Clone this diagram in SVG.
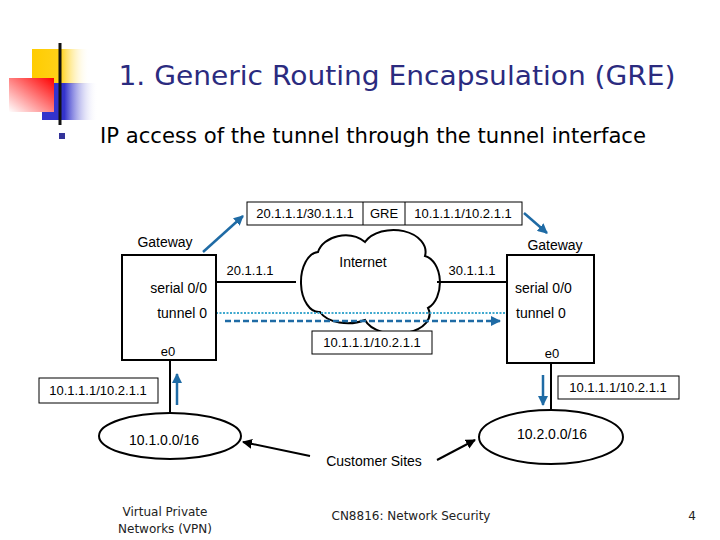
<svg xmlns="http://www.w3.org/2000/svg" width="720" height="540" viewBox="0 0 720 540">
<defs>
<linearGradient id="gy" x1="0" y1="0" x2="1" y2="0"><stop offset="0" stop-color="#FFCC00"/><stop offset="0.5" stop-color="#FFD21A"/><stop offset="1" stop-color="#FFFFFF" stop-opacity="0"/></linearGradient>
<linearGradient id="gb" x1="0" y1="0" x2="1" y2="0"><stop offset="0" stop-color="#3333CC"/><stop offset="0.4" stop-color="#3333CC"/><stop offset="1" stop-color="#FFFFFF" stop-opacity="0"/></linearGradient>
<linearGradient id="gr" x1="1" y1="0" x2="0" y2="1"><stop offset="0" stop-color="#FF0000"/><stop offset="1" stop-color="#FFFFFF"/></linearGradient>
<linearGradient id="gl" x1="0" y1="0" x2="1" y2="0"><stop offset="0" stop-color="#111111"/><stop offset="0.6" stop-color="#AAAAAA"/><stop offset="1" stop-color="#FFFFFF"/></linearGradient>
<marker id="ab" viewBox="0 0 10 10" refX="9" refY="5" markerWidth="4" markerHeight="4" orient="auto-start-reverse"><path d="M0,0 L10,5 L0,10 Z" fill="#1F6BA5"/></marker>
<marker id="ak" viewBox="0 0 10 10" refX="9" refY="5" markerWidth="5" markerHeight="5" orient="auto"><path d="M0,0 L10,5 L0,10 Z" fill="#000"/></marker>
<style>
text{font-family:"Liberation Sans",Arial,sans-serif;fill:#000}
.t13{font-size:13px}
.t14{font-size:14px}
.box{fill:#fff;stroke:#000;stroke-width:1}
.gw{fill:#fff;stroke:#000;stroke-width:2}
.ln{stroke:#000;stroke-width:2;fill:none}
.blue{stroke:#1F6BA5;stroke-width:2.5;fill:none}
.foot{font-family:"DejaVu Sans",Verdana,sans-serif;font-size:12px;fill:#222}
</style>
</defs>
<rect width="720" height="540" fill="#fff"/>
<g id="logo">
<rect x="32" y="49" width="58" height="35" fill="url(#gy)"/>
<rect x="42" y="83" width="56" height="37" fill="url(#gb)"/>
<rect x="9" y="78" width="45" height="34" fill="url(#gr)"/>
<line x1="34" y1="105" x2="700" y2="105" stroke="url(#gl)" stroke-width="3"/>
<line x1="60" y1="43" x2="60" y2="125" stroke="#111" stroke-width="3"/>
</g>
<text x="397" y="85" text-anchor="middle" style="font-family:'DejaVu Sans',Verdana,sans-serif;font-size:27px;fill:#2B2B7F" textLength="557" lengthAdjust="spacingAndGlyphs">1. Generic Routing Encapsulation (GRE)</text>
<rect x="59" y="133" width="6" height="6" fill="#333399"/>
<text x="100" y="143" style="font-family:'DejaVu Sans',Verdana,sans-serif;font-size:21px" textLength="546" lengthAdjust="spacingAndGlyphs">IP access of the tunnel through the tunnel interface</text>

<g id="internet">
<path d="M318,252 A28,22 0 0 1 365,242 A32,22 0 0 1 425,256 A18,27 0 0 1 428,308 A30,18 0 0 1 365,320 A30,18 0 0 1 320,312 A18,30 0 0 1 318,252 Z" fill="#fff" stroke="#000" stroke-width="2"/>
<text x="363" y="267" class="t14" text-anchor="middle">Internet</text>
</g>

<g id="connectors">
<line x1="216" y1="282" x2="296" y2="282" class="ln"/>
<line x1="437" y1="282" x2="507" y2="282" class="ln"/>
<line x1="170" y1="360" x2="170" y2="413" class="ln"/>
<line x1="551" y1="363" x2="551" y2="410" class="ln"/>
<line x1="216" y1="313" x2="507" y2="313" stroke="#3FA9CF" stroke-width="2" stroke-dasharray="2 1.5"/>
<line x1="225" y1="321" x2="500" y2="321" stroke="#1F6BA5" stroke-width="2.5" stroke-dasharray="6 3" marker-end="url(#ab)"/>
<line x1="203" y1="252" x2="243" y2="216" class="blue" marker-end="url(#ab)"/>
<line x1="524" y1="213" x2="547" y2="233" class="blue" marker-end="url(#ab)"/>
<line x1="177" y1="405" x2="177" y2="374" class="blue" marker-end="url(#ab)"/>
<line x1="543" y1="375" x2="543" y2="405" class="blue" marker-end="url(#ab)"/>
<line x1="310" y1="456" x2="243" y2="442" stroke="#000" stroke-width="2" marker-end="url(#ak)"/>
<line x1="437" y1="460" x2="475" y2="440" stroke="#000" stroke-width="2" marker-end="url(#ak)"/>
</g>

<g id="header">
<rect x="247" y="202" width="275" height="23" class="box"/>
<line x1="363" y1="202" x2="363" y2="225" stroke="#000"/>
<line x1="405" y1="202" x2="405" y2="225" stroke="#000"/>
<text x="305" y="218" class="t13" text-anchor="middle">20.1.1.1/30.1.1.1</text>
<text x="384" y="218" class="t13" text-anchor="middle">GRE</text>
<text x="463" y="218" class="t13" text-anchor="middle">10.1.1.1/10.2.1.1</text>
</g>

<g id="gateway-left">
<text x="165" y="247" class="t14" text-anchor="middle">Gateway</text>
<rect x="122" y="255" width="94" height="105" class="gw"/>
<text x="207" y="293" class="t14" text-anchor="end">serial 0/0</text>
<text x="207" y="318" class="t14" text-anchor="end">tunnel 0</text>
<text x="168" y="356" class="t13" text-anchor="middle">e0</text>
</g>

<g id="gateway-right">
<text x="555" y="250" class="t14" text-anchor="middle">Gateway</text>
<rect x="507" y="255" width="87" height="108" class="gw"/>
<text x="515" y="293" class="t14">serial 0/0</text>
<text x="516" y="318" class="t14">tunnel 0</text>
<text x="552" y="358" class="t13" text-anchor="middle">e0</text>
</g>

<text x="250" y="275" class="t13" text-anchor="middle">20.1.1.1</text>
<text x="472" y="275" class="t13" text-anchor="middle">30.1.1.1</text>

<g id="tunnel-label">
<rect x="312" y="331" width="120" height="23" class="box"/>
<text x="372" y="347" class="t13" text-anchor="middle">10.1.1.1/10.2.1.1</text>
</g>

<g id="label-left">
<rect x="39" y="378" width="119" height="25" class="box"/>
<text x="98" y="395" class="t13" text-anchor="middle">10.1.1.1/10.2.1.1</text>
</g>
<g id="label-right">
<rect x="558" y="376" width="121" height="23" class="box"/>
<text x="618" y="392" class="t13" text-anchor="middle">10.1.1.1/10.2.1.1</text>
</g>

<g id="site-left">
<ellipse cx="170" cy="436" rx="71" ry="23" fill="#fff" stroke="#000" stroke-width="2"/>
<text x="164" y="445" class="t14" text-anchor="middle">10.1.0.0/16</text>
</g>
<g id="site-right">
<ellipse cx="551" cy="437" rx="72" ry="27" fill="#fff" stroke="#000" stroke-width="2"/>
<text x="552" y="439" class="t14" text-anchor="middle">10.2.0.0/16</text>
</g>
<text x="374" y="466" class="t14" text-anchor="middle">Customer Sites</text>

<text x="165" y="516" class="foot" text-anchor="middle">Virtual Private</text>
<text x="165" y="533" class="foot" text-anchor="middle">Networks (VPN)</text>
<text x="411" y="520" class="foot" text-anchor="middle">CN8816: Network Security</text>
<text x="692" y="520" class="foot" text-anchor="middle">4</text>
</svg>
